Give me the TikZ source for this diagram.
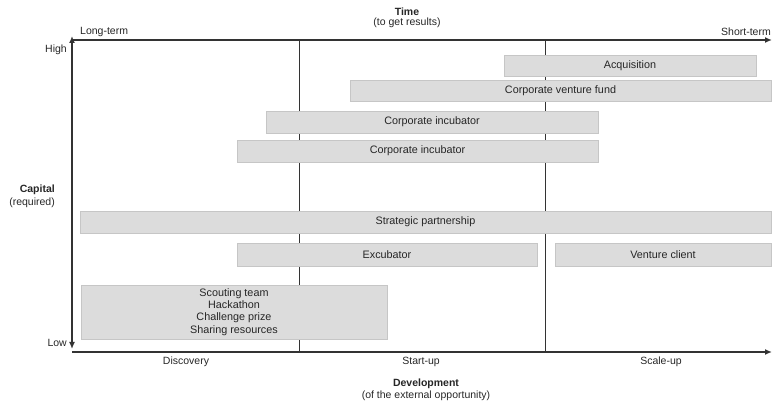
\documentclass[tikz,border=0pt]{standalone}
\usepackage{fontspec}
\setmainfont{Liberation Sans}
\usetikzlibrary{arrows.meta}
\definecolor{boxfill}{HTML}{DCDCDC}
\definecolor{boxline}{HTML}{C6C6C6}
\definecolor{axiscol}{HTML}{333333}
\definecolor{txt}{HTML}{262626}
\begin{document}
\begin{tikzpicture}[x=1pt,y=-1pt,
  every node/.style={font=\fontsize{10.8}{12}\selectfont, text=txt, inner sep=0pt},
  bar/.style={draw=boxline, line width=0.6pt, fill=boxfill, align=center},
  axis/.style={draw=axiscol, line width=1.4pt},
  divider/.style={draw=axiscol, line width=1pt},
  tip/.style={-{Latex[length=7pt,width=6pt]}},
  lbl/.style={font=\fontsize{10.5}{12}\selectfont},
  bold/.style={font=\bfseries\fontsize{10.5}{12}\selectfont}]
\useasboundingbox (0,0) rectangle (772,406);

% coordinates
\coordinate (tl) at (72,40);
\coordinate (tr) at (772,40);
\coordinate (bl) at (72,352);
\coordinate (br) at (772,352);
\coordinate (vtop) at (72,36);
\coordinate (vbot) at (72,349);
\coordinate (d1t) at (299,40);
\coordinate (d1b) at (299,352);
\coordinate (d2t) at (545,40);
\coordinate (d2b) at (545,352);

% dividers
\draw[divider] (d1t) -- (d1b);
\draw[divider] (d2t) -- (d2b);

% axes
\draw[axis, tip] (tl) -- (tr);
\draw[axis, tip] (bl) -- (br);
\draw[axis, {Latex[length=7pt,width=6pt]}-{Latex[length=7pt,width=6pt]}] (vbot) -- (vtop);

% bars
\node[bar, minimum width=252pt, minimum height=21pt] (acq) at (630,65.5) {Acquisition};
\node[bar, minimum width=421pt, minimum height=21pt] (cvf) at (560.5,90.5) {Corporate venture fund};
\node[bar, minimum width=332pt, minimum height=22pt] (ci1) at (432,122) {Corporate incubator};
\node[bar, minimum width=361pt, minimum height=22pt] (ci2) at (417.5,151) {Corporate incubator};
\node[bar, minimum width=691pt, minimum height=22pt] (sp) at (425.5,222) {Strategic partnership};
\node[bar, minimum width=300pt, minimum height=23pt] (exc) at (387,254.5) {Excubator};
\node[bar, minimum width=216pt, minimum height=23pt] (vc) at (663,254.5) {Venture client};
\node[bar, minimum width=306pt, minimum height=54pt, font=\fontsize{10.8}{12.3}\selectfont] (sct) at (234,312) {Scouting team\\Hackathon\\Challenge prize\\Sharing resources};

% axis labels
\node[bold] (time) at (407,12) {Time};
\node[lbl] (timesub) at (407,23) {(to get results)};
\node[lbl, anchor=west] (long) at (80,32) {Long-term};
\node[lbl, anchor=east] (short) at (771,32) {Short-term};
\node[lbl, anchor=east] (high) at (67,50) {High};
\node[lbl, anchor=east] (low) at (67,343) {Low};
\node[bold, anchor=east] (cap) at (55,190) {Capital};
\node[lbl, anchor=east] (capsub) at (55,203) {(required)};
\node[lbl] (disc) at (186,362) {Discovery};
\node[lbl] (start) at (421,362) {Start-up};
\node[lbl] (scale) at (661,362) {Scale-up};
\node[bold] (dev) at (426,384) {Development};
\node[lbl] (devsub) at (426,396) {(of the external opportunity)};
\end{tikzpicture}
\end{document}
